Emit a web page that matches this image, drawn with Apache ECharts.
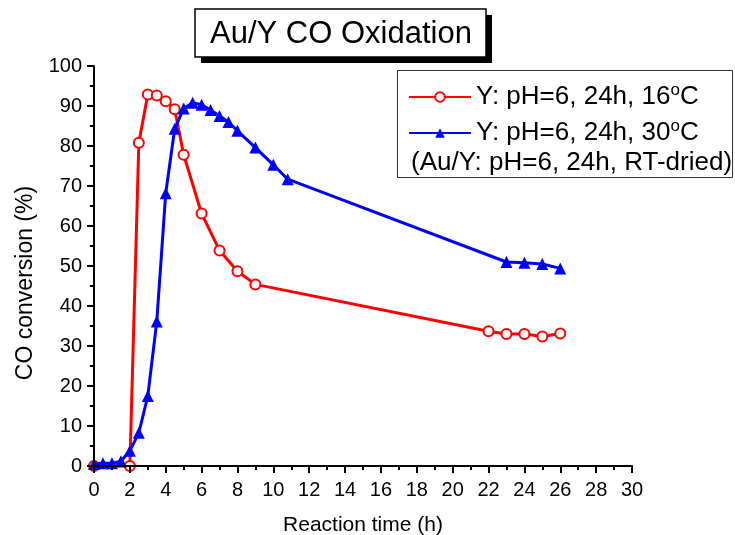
<!DOCTYPE html>
<html>
<head>
<meta charset="utf-8">
<script src="https://cdn.jsdelivr.net/npm/echarts@6/dist/echarts.min.js"></script>
<style>
  html, body { margin: 0; padding: 0; background: #fff; }
  #chart { width: 735px; height: 535px; }
</style>
</head>
<body>
<div id="chart"></div>
<script>
// CO conversion over reaction time for two Au/Y catalysts
var FONT = '"Liberation Sans", Arial, sans-serif';

var xTicks = [0, 2, 4, 6, 8, 10, 12, 14, 16, 18, 20, 22, 24, 26, 28, 30];
var yTicks = [0, 10, 20, 30, 40, 50, 60, 70, 80, 90, 100];

// Series 1: support prepared at 16 °C
var timeA = [0, 2, 2.5, 3, 3.5, 4, 4.5, 5, 6, 7, 8, 9, 22, 23, 24, 25, 26];
var convA = [0, 0, 80.8, 92.9, 92.6, 91.2, 89.2, 77.8, 63.1, 53.9, 48.7, 45.4, 33.7, 33.0, 33.0, 32.4, 33.1];

// Series 2: support prepared at 30 °C
var timeB = [0, 0.5, 1, 1.5, 2, 2.5, 3, 3.5, 4, 4.5, 5, 5.5, 6, 6.5, 7, 7.5, 8, 9, 10, 10.8, 23, 24, 25, 26];
var convB = [0.5, 0.7, 0.7, 1.2, 3.8, 8.3, 17.5, 36.1, 68.2, 84.3, 89.4, 90.8, 90.3, 89.0, 87.5, 86.0, 83.8, 79.6, 75.3, 71.7, 51.0, 50.8, 50.5, 49.4];

var nameA = 'Y: pH=6, 24h, 16\u00b0C';
var nameB = 'Y: pH=6, 24h, 30\u00b0C';
var legendA = ['Y: pH=6, 24h, 16', 'C'];
var legendB = ['Y: pH=6, 24h, 30', 'C'];
var legendNote = '(Au/Y: pH=6, 24h, RT-dried)';
var titleText = 'Au/Y CO Oxidation';

function pairs(xs, ys) {
  return xs.map(function (x, i) { return [x, ys[i]]; });
}

var chart = echarts.init(document.getElementById('chart'), null, { renderer: 'canvas' });

var axisCommon = {
  axisLine: { show: true, onZero: false, lineStyle: { color: '#000', width: 2 } },
  axisTick: { show: true, inside: false, length: 7, lineStyle: { color: '#000', width: 2 } },
  minorTick: { show: true, splitNumber: 2, length: 4, lineStyle: { color: '#000', width: 2 } },
  splitLine: { show: false },
  axisLabel: { color: '#000', fontSize: 20, fontFamily: FONT },
  z: 5
};

chart.setOption({
  animation: false,
  backgroundColor: '#fff',
  grid: { left: 94, right: 103, top: 66, bottom: 69, containLabel: false, outerBoundsMode: 'none' },
  xAxis: Object.assign({}, axisCommon, {
    type: 'value',
    min: xTicks[0],
    max: xTicks[xTicks.length - 1],
    interval: xTicks[1] - xTicks[0],
    name: 'Reaction time (h)',
    nameLocation: 'middle',
    nameGap: 49,
    nameTextStyle: { color: '#000', fontSize: 21, fontFamily: FONT },
    axisLabel: Object.assign({}, axisCommon.axisLabel, { margin: 14 })
  }),
  yAxis: Object.assign({}, axisCommon, {
    type: 'value',
    min: yTicks[0],
    max: yTicks[yTicks.length - 1],
    interval: yTicks[1] - yTicks[0],
    name: 'CO conversion (%)',
    nameLocation: 'middle',
    nameRotate: 90,
    nameGap: 57,
    nameTextStyle: { color: '#000', fontSize: 23, fontFamily: FONT, padding: [0, 34, 0, 0] },
    axisLabel: Object.assign({}, axisCommon.axisLabel, { margin: 12 })
  }),
  legend: {
    orient: 'vertical',
    left: 408,
    top: 82,
    padding: 0,
    itemWidth: 62,
    itemHeight: 12,
    itemGap: 6,
    data: [nameA, nameB],
    formatter: function (name) {
      var parts = name === nameA ? legendA : legendB;
      return '{t|' + parts[0] + '}{s|o}{t|' + parts[1] + '}';
    },
    textStyle: {
      color: '#000',
      fontFamily: FONT,
      fontSize: 26,
      rich: {
        t: { fontSize: 26, lineHeight: 27, fontFamily: FONT, color: '#000' },
        s: { fontSize: 17, lineHeight: 13, fontFamily: FONT, color: '#000', padding: [0, 0, 13, 0] }
      }
    }
  },
  graphic: [
    // title box with solid drop shadow
    { type: 'rect', shape: { x: 201, y: 15, width: 291, height: 48 }, style: { fill: '#000' }, z: 10 },
    { type: 'rect', shape: { x: 195, y: 9, width: 291, height: 48 }, style: { fill: '#fff', stroke: '#000', lineWidth: 1.5 }, z: 11 },
    { type: 'text', x: 341, y: 34, style: { text: titleText, fill: '#000', font: '31px ' + FONT, textAlign: 'center', textVerticalAlign: 'middle' }, z: 12 },
    // legend frame and the note under the second entry
    { type: 'rect', shape: { x: 397.5, y: 70.5, width: 335, height: 107 }, style: { fill: '#fff', stroke: '#333', lineWidth: 1 }, z: 1 },
    { type: 'text', x: 411, y: 163, style: { text: legendNote, fill: '#000', font: '26px ' + FONT, textAlign: 'left', textVerticalAlign: 'middle' }, z: 12 }
  ],
  series: [
    {
      name: nameA,
      type: 'line',
      data: pairs(timeA, convA),
      clip: false,
      symbol: 'emptyCircle',
      symbolSize: 10,
      lineStyle: { color: '#ff0000', width: 3 },
      itemStyle: { color: '#ff0000', borderColor: '#ff0000', borderWidth: 1.5 },
      z: 2
    },
    {
      name: nameB,
      type: 'line',
      data: pairs(timeB, convB),
      clip: false,
      symbol: 'triangle',
      symbolSize: 12,
      lineStyle: { color: '#0000ff', width: 3 },
      itemStyle: { color: '#0000ff' },
      z: 3
    }
  ]
});
</script>
</body>
</html>
